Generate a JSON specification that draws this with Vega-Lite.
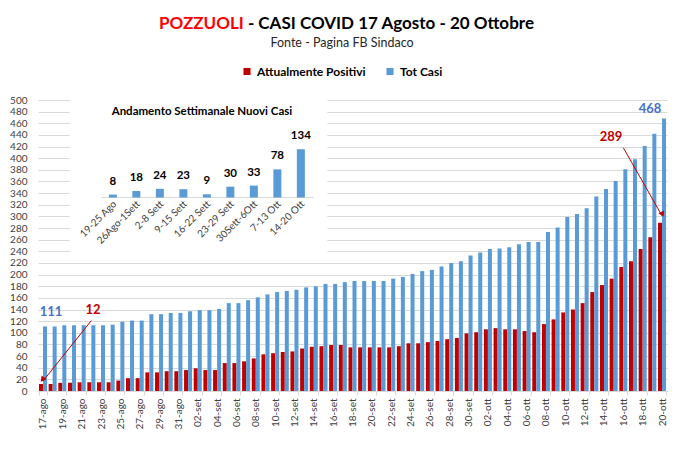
{
  "$schema": "https://vega.github.io/schema/vega-lite/v6.json",
  "width": 629,
  "height": 291,
  "autosize": {"type": "none"},
  "padding": {"left": 38, "top": 100, "right": 15, "bottom": 64},
  "background": "white",
  "config": {
    "font": "Lato",
    "view": {"stroke": null},
    "axis": {"labelFont": "Lato", "titleFont": "Lato"}
  },
  "title": {
    "text": "POZZUOLI",
    "subtitle": "\u200b\u2003\u2003\u2003\u2003\u2003\u2003\u00a0\u00a0\u00a0- CASI COVID 17 Agosto - 20 Ottobre",
    "anchor": "start",
    "frame": "group",
    "dx": 121,
    "offset": 4,
    "font": "Lato",
    "fontSize": 17,
    "fontWeight": "bold",
    "color": "#FF0000",
    "subtitleFont": "Lato",
    "subtitleFontSize": 17,
    "subtitleFontWeight": "bold",
    "subtitleColor": "#000000",
    "subtitlePadding": -17
  },
  "layer": [
    {
      "data": {
        "values": [
          {"d": "17-ago", "Attualmente Positivi": 12, "Tot Casi": 111},
          {"d": "18-ago", "Attualmente Positivi": 12, "Tot Casi": 111},
          {"d": "19-ago", "Attualmente Positivi": 14, "Tot Casi": 113},
          {"d": "20-ago", "Attualmente Positivi": 14, "Tot Casi": 113},
          {"d": "21-ago", "Attualmente Positivi": 15, "Tot Casi": 113},
          {"d": "22-ago", "Attualmente Positivi": 15, "Tot Casi": 113},
          {"d": "23-ago", "Attualmente Positivi": 15, "Tot Casi": 113},
          {"d": "24-ago", "Attualmente Positivi": 15, "Tot Casi": 114},
          {"d": "25-ago", "Attualmente Positivi": 18, "Tot Casi": 119},
          {"d": "26-ago", "Attualmente Positivi": 22, "Tot Casi": 121},
          {"d": "27-ago", "Attualmente Positivi": 22, "Tot Casi": 121},
          {"d": "28-ago", "Attualmente Positivi": 32, "Tot Casi": 132},
          {"d": "29-ago", "Attualmente Positivi": 32, "Tot Casi": 132},
          {"d": "30-ago", "Attualmente Positivi": 34, "Tot Casi": 134},
          {"d": "31-ago", "Attualmente Positivi": 34, "Tot Casi": 134},
          {"d": "01-set", "Attualmente Positivi": 36, "Tot Casi": 137},
          {"d": "02-set", "Attualmente Positivi": 39, "Tot Casi": 139},
          {"d": "03-set", "Attualmente Positivi": 36, "Tot Casi": 139},
          {"d": "04-set", "Attualmente Positivi": 36, "Tot Casi": 141},
          {"d": "05-set", "Attualmente Positivi": 48, "Tot Casi": 151},
          {"d": "06-set", "Attualmente Positivi": 48, "Tot Casi": 151},
          {"d": "07-set", "Attualmente Positivi": 51, "Tot Casi": 156},
          {"d": "08-set", "Attualmente Positivi": 56, "Tot Casi": 161},
          {"d": "09-set", "Attualmente Positivi": 63, "Tot Casi": 166},
          {"d": "10-set", "Attualmente Positivi": 65, "Tot Casi": 170},
          {"d": "11-set", "Attualmente Positivi": 67, "Tot Casi": 172},
          {"d": "12-set", "Attualmente Positivi": 68, "Tot Casi": 174},
          {"d": "13-set", "Attualmente Positivi": 73, "Tot Casi": 178},
          {"d": "14-set", "Attualmente Positivi": 76, "Tot Casi": 180},
          {"d": "15-set", "Attualmente Positivi": 77, "Tot Casi": 184},
          {"d": "16-set", "Attualmente Positivi": 79, "Tot Casi": 184},
          {"d": "17-set", "Attualmente Positivi": 79, "Tot Casi": 187},
          {"d": "18-set", "Attualmente Positivi": 75, "Tot Casi": 189},
          {"d": "19-set", "Attualmente Positivi": 75, "Tot Casi": 189},
          {"d": "20-set", "Attualmente Positivi": 75, "Tot Casi": 189},
          {"d": "21-set", "Attualmente Positivi": 75, "Tot Casi": 189},
          {"d": "22-set", "Attualmente Positivi": 75, "Tot Casi": 193},
          {"d": "23-set", "Attualmente Positivi": 77, "Tot Casi": 196},
          {"d": "24-set", "Attualmente Positivi": 82, "Tot Casi": 201},
          {"d": "25-set", "Attualmente Positivi": 82, "Tot Casi": 206},
          {"d": "26-set", "Attualmente Positivi": 84, "Tot Casi": 208},
          {"d": "27-set", "Attualmente Positivi": 86, "Tot Casi": 214},
          {"d": "28-set", "Attualmente Positivi": 89, "Tot Casi": 220},
          {"d": "29-set", "Attualmente Positivi": 91, "Tot Casi": 223},
          {"d": "30-set", "Attualmente Positivi": 99, "Tot Casi": 233},
          {"d": "01-ott", "Attualmente Positivi": 101, "Tot Casi": 238},
          {"d": "02-ott", "Attualmente Positivi": 106, "Tot Casi": 244},
          {"d": "03-ott", "Attualmente Positivi": 108, "Tot Casi": 245},
          {"d": "04-ott", "Attualmente Positivi": 106, "Tot Casi": 247},
          {"d": "05-ott", "Attualmente Positivi": 106, "Tot Casi": 252},
          {"d": "06-ott", "Attualmente Positivi": 103, "Tot Casi": 256},
          {"d": "07-ott", "Attualmente Positivi": 101, "Tot Casi": 256},
          {"d": "08-ott", "Attualmente Positivi": 115, "Tot Casi": 273},
          {"d": "09-ott", "Attualmente Positivi": 123, "Tot Casi": 281},
          {"d": "10-ott", "Attualmente Positivi": 135, "Tot Casi": 299},
          {"d": "11-ott", "Attualmente Positivi": 140, "Tot Casi": 304},
          {"d": "12-ott", "Attualmente Positivi": 151, "Tot Casi": 314},
          {"d": "13-ott", "Attualmente Positivi": 170, "Tot Casi": 334},
          {"d": "14-ott", "Attualmente Positivi": 182, "Tot Casi": 347},
          {"d": "15-ott", "Attualmente Positivi": 193, "Tot Casi": 361},
          {"d": "16-ott", "Attualmente Positivi": 213, "Tot Casi": 381},
          {"d": "17-ott", "Attualmente Positivi": 223, "Tot Casi": 398},
          {"d": "18-ott", "Attualmente Positivi": 244, "Tot Casi": 421},
          {"d": "19-ott", "Attualmente Positivi": 264, "Tot Casi": 442},
          {"d": "20-ott", "Attualmente Positivi": 289, "Tot Casi": 468}
        ]
      },
      "transform": [{"fold": ["Attualmente Positivi", "Tot Casi"], "as": ["key", "v"]}],
      "encoding": {
        "x": {
          "field": "d",
          "type": "nominal",
          "scale": {
            "domain": ["17-ago","18-ago","19-ago","20-ago","21-ago","22-ago","23-ago","24-ago","25-ago","26-ago","27-ago","28-ago","29-ago","30-ago","31-ago","01-set","02-set","03-set","04-set","05-set","06-set","07-set","08-set","09-set","10-set","11-set","12-set","13-set","14-set","15-set","16-set","17-set","18-set","19-set","20-set","21-set","22-set","23-set","24-set","25-set","26-set","27-set","28-set","29-set","30-set","01-ott","02-ott","03-ott","04-ott","05-ott","06-ott","07-ott","08-ott","09-ott","10-ott","11-ott","12-ott","13-ott","14-ott","15-ott","16-ott","17-ott","18-ott","19-ott","20-ott"],
            "paddingInner": 0.17,
            "paddingOuter": 0.1
          },
          "axis": {
            "title": null,
            "values": ["17-ago","19-ago","21-ago","23-ago","25-ago","27-ago","29-ago","31-ago","02-set","04-set","06-set","08-set","10-set","12-set","14-set","16-set","18-set","20-set","22-set","24-set","26-set","28-set","30-set","02-ott","04-ott","06-ott","08-ott","10-ott","12-ott","14-ott","16-ott","18-ott","20-ott"],
            "labelAngle": -90,
            "labelFontSize": 10,
            "labelColor": "#404040",
            "labelPadding": 3,
            "domainColor": "#d9d9d9",
            "tickColor": "#d9d9d9",
            "tickSize": 4,
            "tickBand": "extent",
            "grid": false
          }
        },
        "y": {
          "field": "v",
          "type": "quantitative",
          "scale": {"domain": [0, 500], "nice": false},
          "axis": {
            "title": null,
            "values": [0,20,40,60,80,100,120,140,160,180,200,220,240,260,280,300,320,340,360,380,400,420,440,460,480,500],
            "labelFontSize": 10,
            "labelColor": "#404040",
            "labelPadding": 11,
            "domain": false,
            "ticks": false,
            "grid": true,
            "gridColor": "#d9d9d9",
            "gridWidth": 1
          }
        }
      },
      "layer": [
        {
          "mark": {"type": "bar"},
          "encoding": {
            "xOffset": {"field": "key", "type": "nominal", "scale": {"domain": ["Attualmente Positivi", "Tot Casi"]}},
            "color": {
              "field": "key",
              "type": "nominal",
              "scale": {"domain": ["Attualmente Positivi", "Tot Casi"], "range": ["#C00000", "#5B9BD5"]},
              "legend": {
                "orient": "none",
                "legendX": 203,
                "legendY": -63,
                "direction": "horizontal",
                "title": "Fonte - Pagina FB Sindaco",
                "titleFont": "Lato",
                "titleFontWeight": "normal",
                "titleFontSize": 12.5,
                "titleColor": "#262626",
                "titleAnchor": "middle",
                "titleAlign": "center",
                "titlePadding": 16,
                "labelFont": "Lato",
                "labelFontWeight": "bold",
                "labelFontSize": 12,
                "labelColor": "#000000",
                "labelOffset": 4,
                "symbolType": "square",
                "symbolSize": 50,
                "symbolStrokeWidth": 0,
                "columnPadding": 18
              }
            }
          }
        },
        {
          "transform": [{"filter": "datum.d == '17-ago' && datum.key == 'Tot Casi'"}],
          "mark": {"type": "text", "fontWeight": "bold", "fontSize": 13, "color": "#4472C4", "dx": 6, "dy": -14},
          "encoding": {
            "xOffset": {"field": "key", "type": "nominal"},
            "text": {"field": "v"}
          }
        },
        {
          "transform": [{"filter": "datum.d == '20-ott' && datum.key == 'Tot Casi'"}],
          "mark": {"type": "text", "fontWeight": "bold", "fontSize": 13, "color": "#4472C4", "dx": -14, "dy": -10},
          "encoding": {
            "xOffset": {"field": "key", "type": "nominal"},
            "text": {"field": "v"}
          }
        },
        {
          "transform": [{"filter": "datum.d == '17-ago' && datum.key == 'Attualmente Positivi'"}],
          "mark": {"type": "text", "fontWeight": "bold", "fontSize": 13, "color": "#C00000", "dx": 52, "dy": -74},
          "encoding": {
            "xOffset": {"field": "key", "type": "nominal"},
            "text": {"field": "v"}
          }
        },
        {
          "transform": [{"filter": "datum.d == '20-ott' && datum.key == 'Attualmente Positivi'"}],
          "mark": {"type": "text", "fontWeight": "bold", "fontSize": 13, "color": "#C00000", "dx": -49, "dy": -86},
          "encoding": {
            "xOffset": {"field": "key", "type": "nominal"},
            "text": {"field": "v"}
          }
        },
        {
          "transform": [{"filter": "datum.d == '17-ago' && datum.key == 'Attualmente Positivi'"}],
          "mark": {"type": "rule", "color": "#C00000", "strokeWidth": 1},
          "encoding": {
            "x": {"datum": "22-ago", "type": "nominal"},
            "y": {"datum": 121, "type": "quantitative"},
            "x2": {"datum": "17-ago"},
            "y2": {"datum": 17}
          }
        },
        {
          "transform": [{"filter": "datum.d == '17-ago' && datum.key == 'Attualmente Positivi'"}],
          "mark": {"type": "point", "shape": "triangle", "filled": true, "size": 40, "angle": 218, "color": "#C00000", "opacity": 1},
          "encoding": {
            "x": {"datum": "17-ago", "type": "nominal"},
            "y": {"datum": 21, "type": "quantitative"}
          }
        },
        {
          "transform": [{"filter": "datum.d == '20-ott' && datum.key == 'Attualmente Positivi'"}],
          "mark": {"type": "rule", "color": "#C00000", "strokeWidth": 1},
          "encoding": {
            "x": {"datum": "16-ott", "type": "nominal"},
            "y": {"datum": 418, "type": "quantitative"},
            "x2": {"datum": "20-ott"},
            "y2": {"datum": 301}
          }
        },
        {
          "transform": [{"filter": "datum.d == '20-ott' && datum.key == 'Attualmente Positivi'"}],
          "mark": {"type": "point", "shape": "triangle", "filled": true, "size": 40, "angle": 154, "color": "#C00000", "opacity": 1},
          "encoding": {
            "x": {"datum": "20-ott", "type": "nominal"},
            "y": {"datum": 305, "type": "quantitative"}
          }
        }
      ]
    },
    {
      "data": {
        "values": [
          {"i": 1, "w": "19-25 Ago", "n": 8},
          {"i": 2, "w": "26Ago-1Sett", "n": 18},
          {"i": 3, "w": "2-8 Sett", "n": 24},
          {"i": 4, "w": "9-15 Sett", "n": 23},
          {"i": 5, "w": "16-22 Sett", "n": 9},
          {"i": 6, "w": "23-29 Sett", "n": 30},
          {"i": 7, "w": "30Sett-6Ott", "n": 33},
          {"i": 8, "w": "7-13 Ott", "n": 78},
          {"i": 9, "w": "14-20 Ott", "n": 134}
        ]
      },
      "layer": [
        {
          "transform": [{"filter": "datum.i == 1"}],
          "mark": {"type": "rect", "color": "white"},
          "encoding": {
            "x": {"datum": -0.84, "type": "quantitative", "scale": {"domain": [-1.974, 24.37], "nice": false, "zero": false}, "axis": null},
            "x2": {"datum": 10.13},
            "y": {"datum": 270.4, "type": "quantitative", "scale": {"domain": [-536.6, 270.4], "nice": false, "zero": false}, "axis": null},
            "y2": {"datum": -165}
          }
        },
        {
          "transform": [{"filter": "datum.i == 1"}],
          "mark": {"type": "rule", "color": "#d9d9d9", "strokeWidth": 1},
          "encoding": {
            "x": {"datum": 0.5, "type": "quantitative"},
            "x2": {"datum": 9.54},
            "y": {"datum": 0, "type": "quantitative"}
          }
        },
        {
          "mark": {"type": "bar", "color": "#5B9BD5", "width": 8},
          "encoding": {
            "x": {"field": "i", "type": "quantitative"},
            "y": {"field": "n", "type": "quantitative"},
            "y2": {"datum": 0}
          }
        },
        {
          "mark": {"type": "text", "fontWeight": "bold", "fontSize": 11.5, "color": "#000000", "dy": -13},
          "encoding": {
            "x": {"field": "i", "type": "quantitative"},
            "y": {"field": "n", "type": "quantitative"},
            "text": {"field": "n"}
          }
        },
        {
          "mark": {"type": "text", "fontSize": 10, "color": "#404040", "angle": -45, "align": "right", "baseline": "middle", "dx": 3},
          "encoding": {
            "x": {"field": "i", "type": "quantitative"},
            "y": {"datum": -20, "type": "quantitative"},
            "text": {"field": "w"}
          }
        },
        {
          "transform": [{"filter": "datum.i == 1"}],
          "mark": {"type": "text", "fontWeight": "bold", "fontSize": 11.5, "color": "#000000", "text": "Andamento Settimanale Nuovi Casi"},
          "encoding": {
            "x": {"datum": 4.79, "type": "quantitative"},
            "y": {"datum": 236.7, "type": "quantitative"}
          }
        }
      ]
    }
  ],
  "resolve": {
    "scale": {"x": "independent", "y": "independent"},
    "axis": {"x": "independent", "y": "independent"}
  }
}
